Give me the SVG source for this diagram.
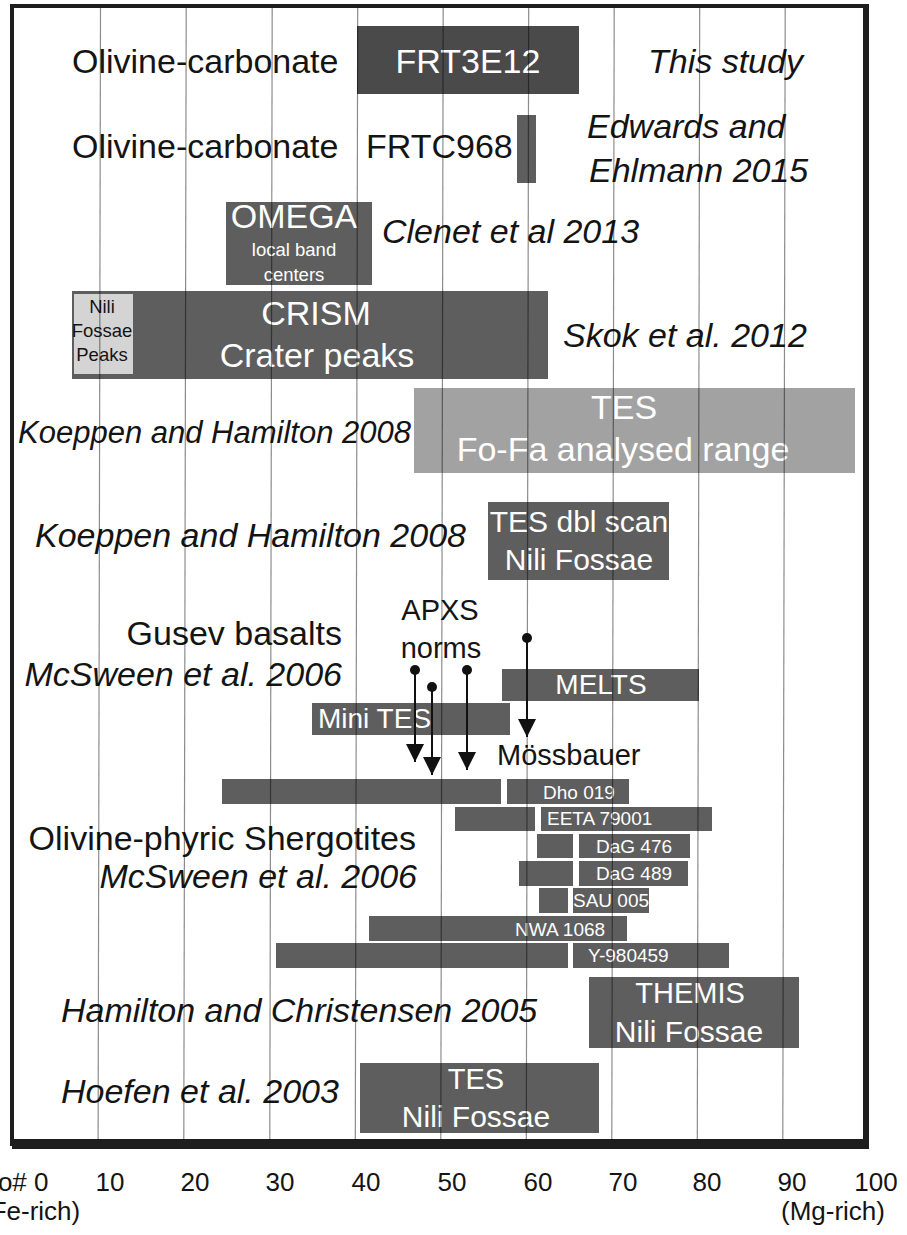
<svg xmlns="http://www.w3.org/2000/svg" width="907" height="1235" viewBox="0 0 907 1235">
<style>
text{font-family:"Liberation Sans",Arial,Helvetica,sans-serif;fill:#141414}
.l{font-size:34px}
.i{font-size:34px;font-style:italic}
.w{fill:#fff}
.m{text-anchor:middle}
.e{text-anchor:end}
.b{fill:#5e5e5e}
.s{font-size:19px;fill:#fff}
.ax{font-size:26px}
.grid line{stroke:#000;stroke-opacity:0.45;stroke-width:1.2}
.arr{stroke:#111;stroke-width:2;fill:none;marker-start:url(#dot);marker-end:url(#head)}
</style>
<defs>
<marker id="head" markerUnits="userSpaceOnUse" markerWidth="18" markerHeight="18" refX="18" refY="9" orient="auto"><path d="M0,0 L18,9 L0,18 Z" fill="#111"/></marker>
<marker id="dot" markerUnits="userSpaceOnUse" markerWidth="10" markerHeight="10" refX="5" refY="5" orient="auto"><circle cx="5" cy="5" r="5" fill="#111"/></marker>
</defs>
<rect width="907" height="1235" fill="#fff"/>
<g id="frame" fill="none" stroke="#1e1e1e">
<rect x="12" y="6" width="855" height="1138" stroke-width="4"/>
<line x1="12" y1="1144" x2="869" y2="1144" stroke-width="10"/>
<line x1="866" y1="6" x2="866" y2="1149" stroke-width="6"/>
</g>
<g id="row-frt3e12">
<text class="l" x="72" y="73">Olivine-carbonate</text>
<rect x="357" y="26" width="222" height="68" fill="#4a4a4a"/>
<text class="l w m" x="468" y="73">FRT3E12</text>
<text class="i" x="648" y="73">This study</text>
</g>
<g id="row-frtc968">
<text class="l" x="72" y="158">Olivine-carbonate</text>
<text class="l" x="366" y="158">FRTC968</text>
<rect x="517" y="115" width="19" height="68" class="b"/>
<text class="i" x="587" y="138">Edwards and</text>
<text class="i" x="589" y="182">Ehlmann 2015</text>
</g>
<g id="row-omega">
<rect x="226" y="202" width="146" height="83" class="b"/>
<text class="l w m" x="294" y="228">OMEGA</text>
<text class="w m" x="294" y="256" font-size="18.5">local band</text>
<text class="w m" x="294" y="281" font-size="18.5">centers</text>
<text class="i" x="382" y="243">Clenet et al 2013</text>
</g>
<g id="row-crism">
<rect x="72" y="291" width="476" height="88" class="b"/>
<rect x="74" y="294" width="59" height="80" fill="#d4d4d4"/>
<text class="m" x="102" y="313" font-size="18.5">Nili</text>
<text class="m" x="102" y="337" font-size="18.5">Fossae</text>
<text class="m" x="102" y="361" font-size="18.5">Peaks</text>
<text class="l w m" x="316" y="325">CRISM</text>
<text class="l w m" x="317" y="367">Crater peaks</text>
<text class="i" x="563" y="347">Skok et al. 2012</text>
</g>
<g id="row-tes-range">
<rect x="414" y="388" width="441" height="85" fill="#a2a2a2"/>
<text class="l w m" x="624" y="419">TES</text>
<text class="l w m" x="623" y="461">Fo-Fa analysed range</text>
<text x="18" y="443" font-size="31" font-style="italic">Koeppen and Hamilton 2008</text>
</g>
<g id="row-tes-dbl">
<rect x="488" y="502" width="181" height="78" class="b"/>
<text class="w m" x="579" y="532" font-size="30">TES dbl scan</text>
<text class="w m" x="579" y="570" font-size="30">Nili Fossae</text>
<text class="i" x="35" y="547">Koeppen and Hamilton 2008</text>
</g>
<g id="row-gusev">
<text class="l e" x="342" y="645">Gusev basalts</text>
<text class="i e" x="342" y="686">McSween et al. 2006</text>
<text class="m" x="440" y="620" font-size="29">APXS</text>
<text class="m" x="441" y="658" font-size="29">norms</text>
<rect x="502" y="669" width="197" height="32" class="b"/>
<text class="w m" x="601" y="694" font-size="28">MELTS</text>
<rect x="312" y="703" width="198" height="32" class="b"/>
<text class="w" x="318" y="728" font-size="28">Mini TES</text>
<text x="497" y="765" font-size="29">Mössbauer</text>
</g>
<g id="row-shergotites">
<text class="l e" x="416" y="850">Olivine-phyric Shergotites</text>
<text class="i e" x="417" y="888">McSween et al. 2006</text>
<rect x="222" y="779" width="279" height="25" class="b"/>
<rect x="507" y="779" width="122" height="25" class="b"/>
<text class="s" x="543" y="799">Dho 019</text>
<rect x="455" y="807" width="80" height="24" class="b"/>
<rect x="541" y="807" width="171" height="24" class="b"/>
<text class="s" x="547" y="825">EETA 79001</text>
<rect x="537" y="834" width="36" height="24" class="b"/>
<rect x="579" y="834" width="111" height="24" class="b"/>
<text class="s" x="596" y="853">DaG 476</text>
<rect x="519" y="861" width="54" height="25" class="b"/>
<rect x="579" y="861" width="109" height="25" class="b"/>
<text class="s" x="596" y="880">DaG 489</text>
<rect x="539" y="888" width="29" height="25" class="b"/>
<rect x="573" y="888" width="76" height="25" class="b"/>
<text class="s" x="573" y="907">SAU 005</text>
<rect x="369" y="916" width="258" height="25" class="b"/>
<text class="s" x="515" y="936">NWA 1068</text>
<rect x="276" y="943" width="292" height="25" class="b"/>
<rect x="573" y="943" width="156" height="25" class="b"/>
<text class="s" x="588" y="962">Y-980459</text>
</g>
<g id="row-themis">
<text class="i" x="61" y="1022">Hamilton and Christensen 2005</text>
<rect x="589" y="977" width="210" height="71" class="b"/>
<text class="w m" x="690" y="1003" font-size="29">THEMIS</text>
<text class="w m" x="689" y="1042" font-size="30">Nili Fossae</text>
</g>
<g id="row-hoefen">
<text class="i" x="61" y="1103">Hoefen et al. 2003</text>
<rect x="360" y="1063" width="239" height="70" class="b"/>
<text class="w m" x="476" y="1089" font-size="29">TES</text>
<text class="w m" x="476" y="1127" font-size="30">Nili Fossae</text>
</g>
<g class="grid">
<line x1="100.5" y1="8" x2="98.1" y2="1140"/>
<line x1="186.2" y1="8" x2="183.8" y2="1140"/>
<line x1="272.2" y1="8" x2="269.8" y2="1140"/>
<line x1="357.7" y1="8" x2="355.3" y2="1140"/>
<line x1="443.2" y1="8" x2="440.8" y2="1140"/>
<line x1="528.7" y1="8" x2="526.3" y2="1140"/>
<line x1="614.2" y1="8" x2="611.8" y2="1140"/>
<line x1="699.7" y1="8" x2="697.3" y2="1140"/>
<line x1="785.2" y1="8" x2="782.8" y2="1140"/>
</g>
<g id="connectors">
<path class="arr" d="M415,670 V762"/>
<path class="arr" d="M432,687 V775"/>
<path class="arr" d="M467,670 V770"/>
<path class="arr" d="M527,638 V737"/>
</g>
<g id="axis">
<text class="ax" x="-18" y="1191">Fo# 0</text>
<text class="ax" x="-18" y="1220">(Fe-rich)</text>
<text class="ax m" x="110" y="1191">10</text>
<text class="ax m" x="195" y="1191">20</text>
<text class="ax m" x="280" y="1191">30</text>
<text class="ax m" x="366" y="1191">40</text>
<text class="ax m" x="452" y="1191">50</text>
<text class="ax m" x="538" y="1191">60</text>
<text class="ax m" x="623" y="1191">70</text>
<text class="ax m" x="707" y="1191">80</text>
<text class="ax m" x="792" y="1191">90</text>
<text class="ax m" x="876" y="1191">100</text>
<text class="ax m" x="833" y="1220">(Mg-rich)</text>
</g>
</svg>
